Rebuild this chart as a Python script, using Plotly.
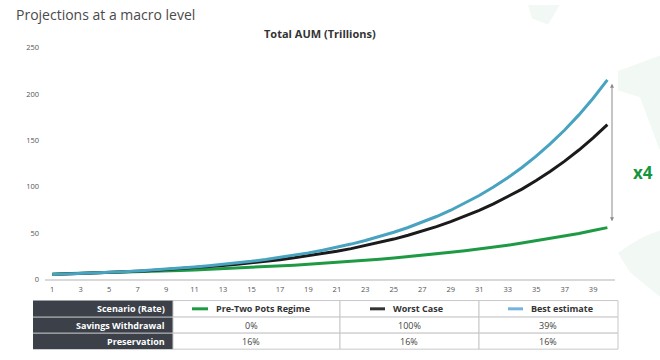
import plotly.graph_objects as go

years = list(range(1, 41))
best_estimate = [5.0, 5.51, 6.06, 6.68, 7.35, 8.10, 8.92, 9.82, 10.8, 11.9,
                 13.1, 14.4, 15.9, 17.5, 19.3, 21.3, 23.4, 25.8, 28.4, 31.3,
                 34.5, 37.9, 41.8, 46.0, 50.7, 55.8, 61.5, 67.7, 74.5, 82.1,
                 90.4, 99.5, 109.6, 120.7, 132.9, 146.4, 161.2, 177.5, 195.5, 215.3]
worst_case = [5.0, 5.47, 5.99, 6.55, 7.17, 7.84, 8.58, 9.39, 10.3, 11.2,
              12.3, 13.4, 14.7, 16.1, 17.6, 19.3, 21.1, 23.1, 25.2, 27.6,
              30.2, 33.0, 36.2, 39.6, 43.3, 47.4, 51.9, 56.7, 62.1, 67.9,
              74.3, 81.3, 89.0, 97.3, 106.5, 116.5, 127.5, 139.5, 152.7, 167.0]
pre_two_pots = [5.5, 5.84, 6.2, 6.58, 6.98, 7.4, 7.86, 8.34, 8.85, 9.39,
                9.97, 10.6, 11.2, 11.9, 12.6, 13.4, 14.2, 15.1, 16.0, 17.0,
                18.0, 19.1, 20.3, 21.5, 22.9, 24.3, 25.7, 27.3, 29.0, 30.8,
                32.6, 34.6, 36.7, 39.0, 41.4, 43.9, 46.6, 49.4, 52.5, 55.7]

row_labels = ["Scenario (Rate)", "Savings Withdrawal", "Preservation"]
scenarios = ["Pre-Two Pots Regime", "Worst Case", "Best estimate"]
withdrawal = ["0%", "100%", "39%"]
preservation = ["16%", "16%", "16%"]

GREEN = "#1e9a45"
BLACK = "#1b1b1b"
BLUE = "#48a3c1"
GLYPH = [GREEN, "#333333", "#74b3df"]

W, H = 660, 360
def px(x):
    return x / W
def py(y):
    return 1 - y / H

fig = go.Figure()
fig.add_trace(go.Scatter(x=years, y=pre_two_pots, mode="lines", line=dict(color=GREEN, width=3), name=scenarios[0]))
fig.add_trace(go.Scatter(x=years, y=worst_case, mode="lines", line=dict(color=BLACK, width=3), name=scenarios[1]))
fig.add_trace(go.Scatter(x=years, y=best_estimate, mode="lines", line=dict(color=BLUE, width=3), name=scenarios[2]))

shapes = []
annotations = []

# faint watermark
shapes.append(dict(type="path", xref="paper", yref="paper", layer="below",
                   path=f"M {px(618)} {py(68)} L {px(660)} {py(52)} L {px(660)} {py(150)} L {px(640)} {py(95)} L {px(618)} {py(88)} Z",
                   fillcolor="#f2f8f4", line=dict(width=0)))
shapes.append(dict(type="path", xref="paper", yref="paper", layer="below",
                   path=f"M {px(618)} {py(255)} Q {px(640)} {py(238)} {px(660)} {py(232)} L {px(660)} {py(300)} L {px(630)} {py(275)} Z",
                   fillcolor="#f2f8f4", line=dict(width=0)))
shapes.append(dict(type="path", xref="paper", yref="paper", layer="below",
                   path=f"M {px(528)} {py(0)} L {px(560)} {py(0)} L {px(548)} {py(20)} L {px(532)} {py(14)} Z",
                   fillcolor="#f2f8f4", line=dict(width=0)))

# table
cols = [33, 173, 340, 479, 618]
rows = [304, 321, 337.5, 354]
shapes.append(dict(type="rect", xref="paper", yref="paper", x0=px(cols[0]), x1=px(cols[1]),
                   y0=py(rows[0]), y1=py(rows[3]), fillcolor="#3b4049", line=dict(width=0)))
for r in range(3):
    for c in range(1, 4):
        shapes.append(dict(type="rect", xref="paper", yref="paper", x0=px(cols[c]), x1=px(cols[c + 1]),
                           y0=py(rows[r]), y1=py(rows[r + 1]), fillcolor="white",
                           line=dict(color="#c8c8cc", width=1)))
for r in (1, 2):
    shapes.append(dict(type="line", xref="paper", yref="paper", x0=px(cols[0]), x1=px(cols[1]),
                       y0=py(rows[r]), y1=py(rows[r]), line=dict(color="#d0d0d0", width=1)))

for r, lab in enumerate(row_labels):
    annotations.append(dict(text=f"<b>{lab}</b>", x=px(167), y=py((rows[r] + rows[r + 1]) / 2),
                            xref="paper", yref="paper", xanchor="right", yanchor="middle", showarrow=False,
                            font=dict(color="white", size=9, family="Open Sans")))

glyph_x = [(192, 208), (370, 385), (508, 523)]
for i, s in enumerate(scenarios):
    g0, g1 = glyph_x[i]
    yc = py((rows[0] + rows[1]) / 2)
    shapes.append(dict(type="line", xref="paper", yref="paper", x0=px(g0), x1=px(g1), y0=yc, y1=yc,
                       line=dict(color=GLYPH[i], width=3)))
    annotations.append(dict(text=f"<b>{s}</b>", x=px(g1 + 6), y=yc, xref="paper", yref="paper",
                            xanchor="left", yanchor="middle", showarrow=False,
                            font=dict(color="#333333", size=9, family="Open Sans")))

centers = [251, 409, 548]
for i in range(3):
    annotations.append(dict(text=withdrawal[i], x=px(centers[i]), y=py((rows[1] + rows[2]) / 2),
                            xref="paper", yref="paper", xanchor="center", yanchor="middle", showarrow=False,
                            font=dict(color="#444444", size=9, family="Open Sans")))
    annotations.append(dict(text=preservation[i], x=px(centers[i]), y=py((rows[2] + rows[3]) / 2),
                            xref="paper", yref="paper", xanchor="center", yanchor="middle", showarrow=False,
                            font=dict(color="#444444", size=9, family="Open Sans")))

# titles
annotations.append(dict(text="Projections at a macro level", x=px(14), y=py(10), xref="paper", yref="paper",
                        xanchor="left", yanchor="middle", showarrow=False,
                        font=dict(color="#4a4a4a", size=14, family="Open Sans")))
annotations.append(dict(text="<b>Total AUM (Trillions)</b>", x=px(320), y=py(29), xref="paper", yref="paper",
                        xanchor="center", yanchor="middle", showarrow=False,
                        font=dict(color="#333333", size=11, family="Open Sans")))

# double-headed arrow and x4
annotations.append(dict(x=px(612), y=py(81), ax=0, ay=139, xref="paper", yref="paper",
                        axref="pixel", ayref="pixel", text="", showarrow=True, arrowhead=2, arrowsize=0.8,
                        arrowwidth=1, arrowcolor="#8a8a8a", startarrowhead=2, arrowside="end+start",
                        startarrowsize=0.8))
annotations.append(dict(text="<b>x4</b>", x=px(643), y=py(172), xref="paper", yref="paper",
                        xanchor="center", yanchor="middle", showarrow=False,
                        font=dict(color="#14963c", size=17, family="Open Sans")))

fig.update_layout(
    width=W, height=H, margin=dict(l=0, r=0, t=0, b=0),
    paper_bgcolor="white", plot_bgcolor="white", showlegend=False,
    shapes=shapes, annotations=annotations,
    xaxis=dict(domain=[px(45), px(614.5)], range=[0.5, 40.5], tick0=1, dtick=2,
               showgrid=False, zeroline=False, showline=True, linecolor="#d9d9d9", linewidth=2,
               ticks="", tickfont=dict(size=7.5, color="#555555", family="Open Sans"), ticklabelstandoff=2),
    yaxis=dict(domain=[py(282), py(44)], range=[0, 250], dtick=50,
               showgrid=False, zeroline=False, showline=False, ticks="",
               tickfont=dict(size=7.5, color="#555555", family="Open Sans"), ticklabelstandoff=5),
)

fig.write_html("out.html", config={"displayModeBar": False},
               post_script="document.body.style.margin='0';document.body.style.overflow='hidden';")
